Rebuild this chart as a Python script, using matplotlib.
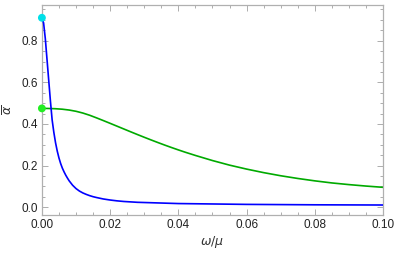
import numpy as np
import matplotlib
matplotlib.use("Agg")
import matplotlib.pyplot as plt
from matplotlib.ticker import MultipleLocator

plt.rcParams['font.family'] = ['Liberation Sans', 'DejaVu Sans']
plt.rcParams['mathtext.fontset'] = 'dejavusans'

# values
w_blue = [0.0, 0.0005, 0.001, 0.0015, 0.002, 0.0025, 0.003, 0.0035, 0.004, 0.0045,
          0.005, 0.0055, 0.006, 0.0065, 0.007, 0.0075, 0.008, 0.009, 0.010, 0.011,
          0.012, 0.013, 0.014, 0.015, 0.016, 0.018, 0.020, 0.022, 0.024, 0.028,
          0.034, 0.04, 0.05, 0.06, 0.07, 0.08, 0.09, 0.1]
a_blue = [0.91, 0.885, 0.81, 0.71, 0.61, 0.51, 0.42, 0.36, 0.31, 0.27,
          0.237, 0.21, 0.188, 0.17, 0.154, 0.14, 0.127, 0.106, 0.090, 0.078,
          0.069, 0.062, 0.056, 0.051, 0.047, 0.040, 0.035, 0.031, 0.028, 0.024,
          0.021, 0.018, 0.016, 0.014, 0.013, 0.012, 0.0115, 0.011]

w_green = [0.0, 0.002, 0.004, 0.006, 0.008, 0.010, 0.012, 0.014, 0.016, 0.018,
           0.020, 0.022, 0.024, 0.026, 0.028, 0.030, 0.032, 0.034, 0.036, 0.038,
           0.040, 0.042, 0.045, 0.050, 0.055, 0.060, 0.065, 0.070, 0.075, 0.080,
           0.085, 0.090, 0.095, 0.100]
a_green = [0.475, 0.4745, 0.4733, 0.471, 0.467, 0.461, 0.4526, 0.442, 0.4295, 0.4165,
           0.4032, 0.3897, 0.3762, 0.3627, 0.3494, 0.3363, 0.3235, 0.311, 0.2988, 0.287,
           0.2756, 0.2646, 0.249, 0.2245, 0.2025, 0.1835, 0.1665, 0.1515, 0.1385, 0.127,
           0.117, 0.109, 0.102, 0.096]

start_w = [0.0, 0.0]
start_a = [0.91, 0.475]
start_colors = ['#00e0e8', '#22ee22']

fig = plt.figure(figsize=(3.99, 2.54), dpi=100)
ax = fig.add_axes([0.105, 0.1535, 0.855, 0.8265])

ax.plot(w_green, a_green, color='#00aa00', lw=1.2, zorder=2)
ax.plot(w_blue, a_blue, color='#0000ff', lw=1.2, zorder=3)
ax.scatter(start_w, start_a, s=32, c=start_colors, zorder=4, clip_on=False, linewidths=0)

ax.set_xlim(0, 0.1)
ax.set_ylim(-0.037, 0.971)
ax.xaxis.set_major_locator(MultipleLocator(0.02))
ax.xaxis.set_minor_locator(MultipleLocator(0.005))
ax.yaxis.set_major_locator(MultipleLocator(0.2))
ax.yaxis.set_minor_locator(MultipleLocator(0.05))
ax.xaxis.set_major_formatter(plt.FuncFormatter(lambda v, p: f'{v:.2f}'))
ax.yaxis.set_major_formatter(plt.FuncFormatter(lambda v, p: f'{v:.1f}'))

for s in ax.spines.values():
    s.set_color('#b0b0b0')
    s.set_linewidth(0.9)
ax.tick_params(which='both', direction='in', top=True, right=True, color='#a0a0a0',
               labelsize=8.5, labelcolor='#222222', width=0.6)
ax.tick_params(which='major', length=4, pad=3)
ax.tick_params(which='minor', length=2)

ax.set_xlabel(r'$\omega/\mu$', fontsize=9, color='#333333', labelpad=2)
ax.set_ylabel(r'$\overline{\alpha}$', fontsize=9, color='#333333', rotation=90, labelpad=4)

fig.savefig('out.png', dpi=100)
